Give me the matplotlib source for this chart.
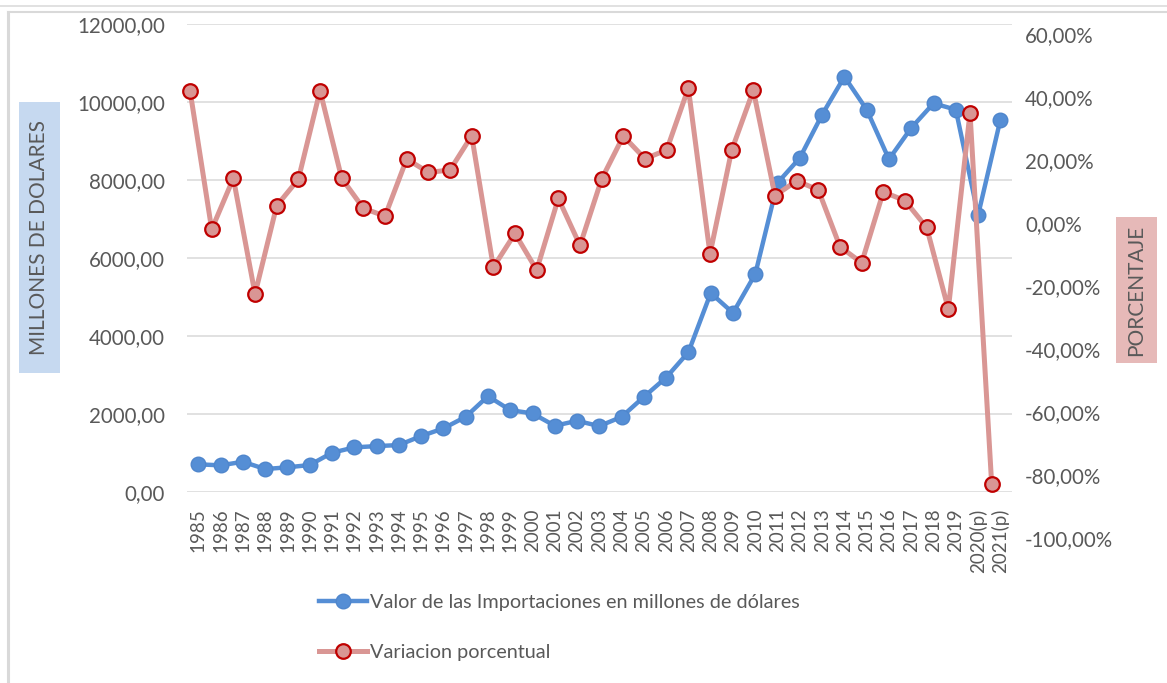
import numpy as np
import matplotlib
matplotlib.use("Agg")
import matplotlib.pyplot as plt
from matplotlib.patches import Rectangle
from matplotlib.lines import Line2D
from matplotlib.ticker import FuncFormatter

plt.rcParams['font.family'] = ['Lato', 'DejaVu Sans']

# data
anios = ['1985', '1986', '1987', '1988', '1989', '1990', '1991', '1992', '1993',
         '1994', '1995', '1996', '1997', '1998', '1999', '2000', '2001', '2002',
         '2003', '2004', '2005', '2006', '2007', '2008', '2009', '2010', '2011',
         '2012', '2013', '2014', '2015', '2016', '2017', '2018', '2019',
         '2020(p)', '2021(p)']
importaciones = [705, 679, 771, 584, 628, 687, 1002, 1140, 1173, 1199, 1430, 1627,
                 1924, 2454, 2096, 2011, 1694, 1822, 1686, 1924, 2437, 2933, 3585,
                 5101, 4590, 5590, 7929, 8570, 9679, 10653, 9807, 8534, 9339, 9969,
                 9807, 7100, 9544]
# secondary series (sits on its own category axis, one point more)
variacion = [41.9, -2.1, 14.1, -22.6, 5.4, 13.8, 41.9, 14.1, 4.6, 2.1, 20.2, 16.0,
             16.7, 27.6, -14.1, -3.4, -15.0, 7.7, -7.2, 13.9, 27.5, 20.3, 23.1,
             42.7, -9.9, 23.0, 42.0, 8.6, 13.3, 10.4, -7.6, -12.7, 9.8, 7.0, -1.5,
             -27.4, 34.9, -82.9]

W, H = 1167, 683
txt = '#595959'
azul = '#558ed5'
rosa = '#d99694'
rojo = '#c00000'


def fx(px):
    return px / W


def fy(py):
    return 1 - py / H


fig = plt.figure(figsize=(W / 100, H / 100), dpi=100)

# chart frame
fig.add_artist(Line2D([0, 1], [fy(6), fy(6)], color='#dcdcdc', lw=1.2))
fig.add_artist(Line2D([fx(8), 1], [fy(12), fy(12)], color='#d9d9d9', lw=1.5))
fig.add_artist(Line2D([fx(8), fx(8)], [0, fy(12)], color='#d9d9d9', lw=2.2))

# main axes (imports)
l, r, t, b = 187.2, 1011.5, 24.2, 491.8
ax = fig.add_axes([fx(l), fy(b), fx(r - l), (b - t) / H])
x = np.arange(len(anios))
ax.plot(x, importaciones, color=azul, lw=3.2, marker='o', ms=10.5,
        mfc=azul, mec='#4f86cc', mew=1, zorder=3)
ax.set_xlim(-0.5, len(anios) - 0.5)
ax.set_ylim(0, 12000)
ax.set_yticks(np.arange(0, 12001, 2000))
ax.yaxis.set_major_formatter(FuncFormatter(lambda v, p: f'{v:.2f}'.replace('.', ',')))
ax.set_xticks(x)
ax.set_xticklabels(anios, rotation=90, va='top', ha='center')
ax.tick_params(axis='y', length=0, pad=16, labelsize=14.8, labelcolor=txt)
ax.tick_params(axis='x', length=0, pad=12, labelsize=13.5, labelcolor=txt)
ax.grid(axis='y', color='#d9d9d9', lw=1.1)
ax.set_axisbelow(True)
for s in ax.spines.values():
    s.set_visible(False)

# secondary axes (percent variation)
l2, r2, t2, b2 = 179.2, 1002.5, 33.6, 538.0
ax2 = fig.add_axes([fx(l2), fy(b2), fx(r2 - l2), (b2 - t2) / H])
ax2.patch.set_alpha(0)
x2 = np.arange(len(variacion))
ax2.plot(x2, variacion, color=rosa, lw=3.6, marker='o', ms=10.5,
         mfc=rosa, mec=rojo, mew=1.6, zorder=3)
ax2.set_xlim(-0.5, len(variacion) - 0.5)
ax2.set_ylim(-100, 60)
ax2.set_yticks(np.arange(-100, 61, 20))
ax2.yaxis.set_major_formatter(FuncFormatter(lambda v, p: f'{v:.2f}'.replace('.', ',') + '%'))
ax2.yaxis.tick_right()
ax2.set_xticks([])
ax2.tick_params(axis='y', length=0, pad=16.2, labelsize=14.8, labelcolor=txt)
for s in ax2.spines.values():
    s.set_visible(False)

# axis titles with coloured boxes
fig.add_artist(Rectangle((fx(19), fy(373)), fx(41), (373 - 102) / H,
                         transform=fig.transFigure, color='#c6d9f0', lw=0))
fig.text(fx(39.5), fy(237.5), 'MILLONES DE DOLARES', rotation=90, ha='center',
         va='center', fontsize=15, color=txt)
fig.add_artist(Rectangle((fx(1116), fy(363)), fx(41), (363 - 217) / H,
                         transform=fig.transFigure, color='#e6b9b8', lw=0))
fig.text(fx(1136.5), fy(290), 'PORCENTAJE', rotation=90, ha='center',
         va='center', fontsize=15, color=txt)

# legend
h1 = Line2D([], [], color=azul, lw=3.2, marker='o', ms=10.5, mfc=azul, mec='#4f86cc')
h2 = Line2D([], [], color=rosa, lw=3.6, marker='o', ms=10.5, mfc=rosa, mec=rojo, mew=1.6)
fig.legend([h1, h2], ['Valor de las Importaciones en millones de dólares',
                      'Variacion porcentual'],
           loc='upper left', bbox_to_anchor=(fx(319), fy(594)), frameon=False,
           fontsize=14.3, labelcolor=txt, handlelength=2.4, handletextpad=0.15,
           labelspacing=1.65, borderpad=0, borderaxespad=0)

fig.savefig('out.png', dpi=100)
